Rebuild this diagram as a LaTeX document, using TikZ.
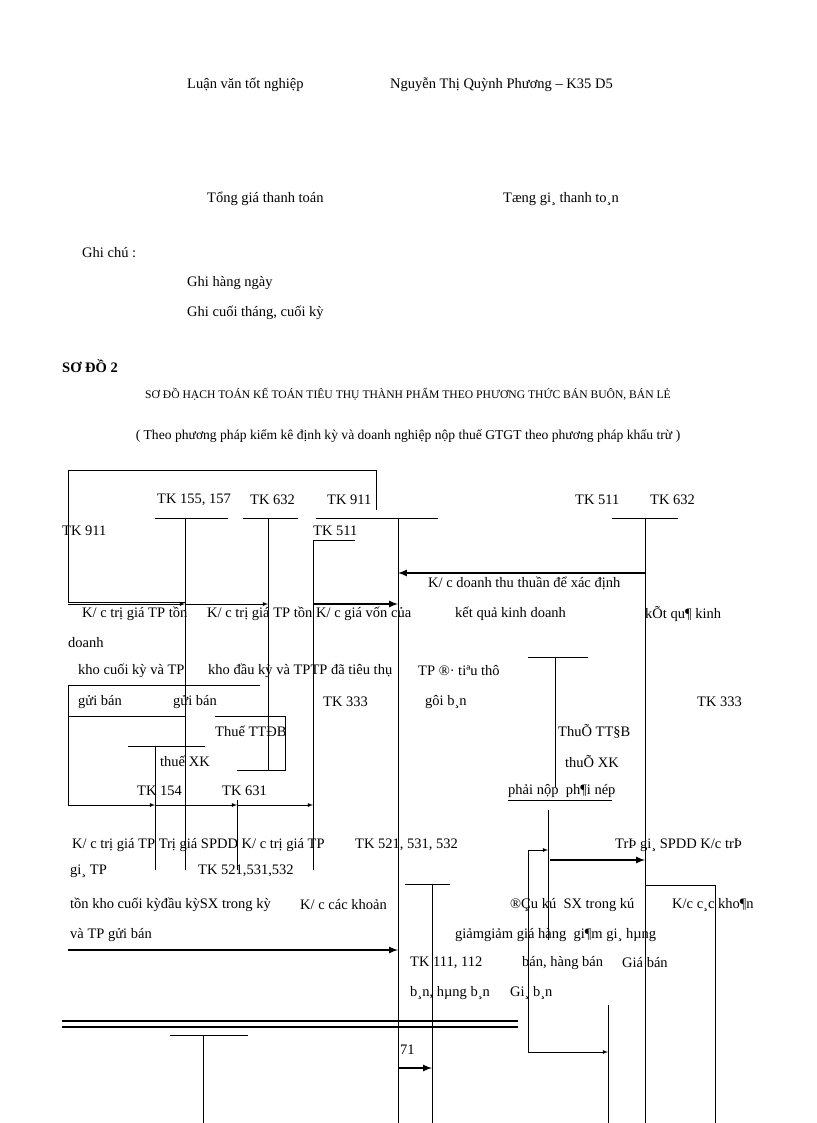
\documentclass[tikz,border=0pt]{standalone}
\usepackage{fontspec}
\setmainfont{Liberation Serif}
\begin{document}
\begin{tikzpicture}[x=1pt,y=-1pt,
  t/.style={anchor=west,inner sep=0pt,font=\fontsize{14.5}{16}\selectfont},
  ln/.style={line width=0.8pt},
  ar/.style={ln,-latex},
  th/.style={line width=2pt,-latex}]
\useasboundingbox (0,0) rectangle (816,1123);
% header
\node[t] (h1) at (187,85) {Luận văn tốt nghiệp};
\node[t] (h2) at (390,85) {Nguyễn Thị Quỳnh Phương – K35 D5};
\node[t] (a1) at (207,199) {Tổng giá thanh toán};
\node[t] (a2) at (503,199) {Tæng gi¸ thanh to¸n};
\node[t] (g0) at (82,253) {Ghi chú :};
\node[t] (g1) at (187,283) {Ghi hàng ngày};
\node[t] (g2) at (187,313) {Ghi cuối tháng, cuối kỳ};
\node[t,font=\bfseries\fontsize{14.5}{16}\selectfont] (s2) at (62,366) {SƠ ĐỒ 2};
\node[anchor=center,font=\fontsize{11.6}{12}\selectfont] (tt) at (408,394) {SƠ ĐỒ HẠCH TOÁN KẾ TOÁN TIÊU THỤ THÀNH PHẨM THEO PHƯƠNG THỨC BÁN BUÔN, BÁN LẺ};
\node[anchor=center,font=\fontsize{13.6}{15}\selectfont] (st) at (408,436) {( Theo phương pháp kiểm kê định kỳ và doanh nghiệp nộp thuế GTGT theo phương pháp khấu trừ )};
% frame lines
\draw[ln] (68,602) -- (68,470) -- (376,470) -- (376,510);
\draw[ln] (68,602) -- (185,602);
\draw[ln] (155,518) -- (228,518) (243,518) -- (298,518) (316,518) -- (376,518) (376,518) -- (438,518) (612,518) -- (678,518);
\draw[ln] (313,540) -- (355,540);
% account labels
\node[t] at (157,500) {TK 155, 157};
\node[t] at (250,500) {TK 632};
\node[t] at (327,500) {TK 911};
\node[t] at (575,500) {TK 511};
\node[t] at (650,500) {TK 632};
\node[t] at (62,531) {TK 911};
\node[t] at (313,531) {TK 511};
% verticals
\draw[ln] (185,518) -- (185,870) (268,518) -- (268,770) (313,540) -- (313,870)
  (398,518) -- (398,1123) (645,518) -- (645,1123) (555,657) -- (555,787)
  (432,884) -- (432,1123) (528,850) -- (528,1052) (548,810) -- (548,940)
  (155,746) -- (155,870) (237,800) -- (237,870) (715,885) -- (715,1123)
  (608,1005) -- (608,1123) (203,1035) -- (203,1123);
\draw[th] (645,573) -- (398,573);
\draw[ar] (68,604) -- (185,604);
\draw[ar] (185,604) -- (268,604);
\draw[th] (313,604) -- (398,604);
\node[t] at (428,583) {K/ c doanh thu thuần để xác định};
\node[t] at (455,614) {kết quả kinh doanh};
\node[t] at (82,614) {K/ c trị giá TP tồn};
\node[t] at (207,614) {K/ c trị giá TP tồn};
\node[t] at (316,614) {K/ c giá vốn của};
\node[t] at (645,614) {kÕt qu¶ kinh};
\node[t] at (68,643) {doanh};
\node[t] at (78,671) {kho cuối kỳ và TP};
\node[t] at (208,671) {kho đầu kỳ và TPTP đã tiêu thụ};
\node[t] at (418,671) {TP ®· tiªu thô};
\draw[ln] (528,657) -- (588,657);
\node[t] at (78,702) {gửi bán};
\node[t] at (173,702) {gửi bán};
\node[t] at (323,702) {TK 333};
\node[t] at (425,702) {gôi b¸n};
\node[t] at (697,702) {TK 333};
\draw[ln] (68,805) -- (68,685) -- (260,685);
\draw[ln] (68,716) -- (185,716);
\draw[ln] (215,716) -- (285,716) -- (285,770) -- (237,770);
\draw[ln] (128,746) -- (205,746);
\node[t] at (215,731) {Thuế TTĐB};
\node[t] at (558,731) {ThuÕ TT§B};
\node[t] at (160,761) {thuế XK};
\node[t] at (565,761) {thuÕ XK};
\node[t] at (137,791) {TK 154};
\node[t] at (222,791) {TK 631};
\node[t] at (508,791) {phải nộp\ \ ph¶i nép};
\draw[ln] (508,800) -- (612,800);
\draw[ar] (68,805) -- (155,805);
\draw[ar] (155,805) -- (237,805);
\draw[ar] (237,805) -- (313,805);
\node[t] at (72,845) {K/ c trị giá TP Trị giá SPDD K/ c trị giá TP};
\node[t] at (355,845) {TK 521, 531, 532};
\node[t] at (615,845) {TrÞ gi¸\ SPDD K/c trÞ};
\draw[th] (550,860) -- (645,860);
\draw[ar] (528,850) -- (548,850);
\node[t] at (70,871) {gi¸ TP};
\node[t] at (198,871) {TK 521,531,532};
\draw[ln] (405,884) -- (450,884) (645,885) -- (715,885);
\node[t] at (70,905) {tồn kho cuối kỳđầu kỳSX trong kỳ};
\node[t] at (300,905) {K/ c các khoản};
\node[t] at (510,905) {®Çu kú\ \ SX trong kú};
\node[t] at (672,905) {K/c c¸c kho¶n};
\node[t] at (70,935) {và TP gửi bán};
\node[t] at (455,935) {giảmgiảm\ giá hàng\ \ gi¶m gi¸ hµng};
\draw[th] (68,950) -- (398,950);
\node[t] at (410,963) {TK 111, 112};
\node[t] at (522,963) {bán, hàng bán};
\node[t] at (622,963) {Giá bán};
\node[t] at (410,993) {b¸n, hµng b¸n};
\node[t] at (510,993) {Gi¸ b¸n};
\draw[line width=1.5pt] (62,1021) -- (518,1021) (62,1027) -- (518,1027);
\draw[ln] (170,1035) -- (248,1035);
\node[t] at (400,1050) {71};
\draw[ar] (528,1052) -- (608,1052);
\draw[th] (398,1068) -- (432,1068);
\end{tikzpicture}
\end{document}
